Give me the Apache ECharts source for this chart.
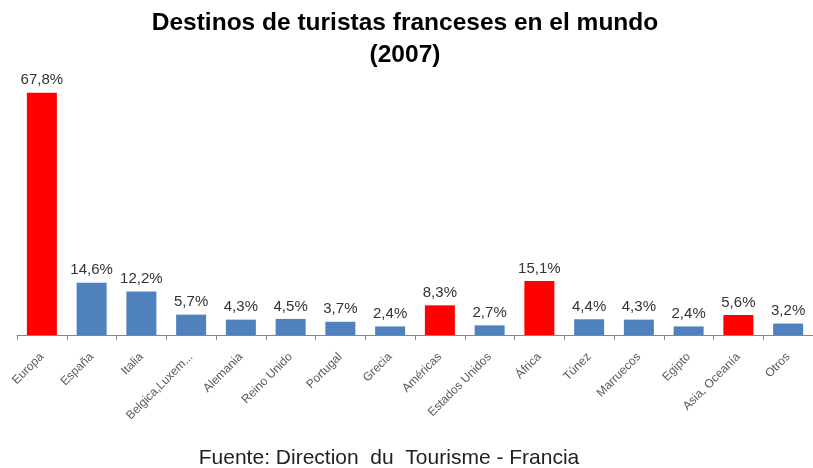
<!DOCTYPE html>
<html><head><meta charset="utf-8">
<script src="https://cdn.jsdelivr.net/npm/echarts@6/dist/echarts.min.js"></script>
<style>html,body{margin:0;padding:0;background:#fff}#c{width:813px;height:468px}</style>
</head><body><div id="c"></div>
<script>
const categories = ["Europa","España","Italia","Belgica,Luxem...","Alemania","Reino Unido","Portugal","Grecia","Américas","Estados Unidos","África","Túnez","Marruecos","Egipto","Asia, Oceanía","Otros"];
const values = [67.8,14.6,12.2,5.7,4.3,4.5,3.7,2.4,8.3,2.7,15.1,4.4,4.3,2.4,5.6,3.2];
const regionFlags = [1,0,0,0,0,0,0,0,1,0,1,0,0,0,1,0];
const titleText = "Destinos de turistas franceses en el mundo\n(2007)";
const sourceText = "Fuente: Direction  du  Tourisme - Francia";

const chart = echarts.init(document.getElementById('c'));
chart.setOption({
  animation: false,
  backgroundColor: '#fff',
  title: [{
    text: titleText, left: 400, top: 2, textAlign: 'center',
    textStyle: {fontFamily: 'Liberation Sans', fontWeight: 'bold', fontSize: 24.5, lineHeight: 32, color: '#000'}
  },{
    text: sourceText, left: 384, top: 443, textAlign: 'center',
    textStyle: {fontFamily: 'Liberation Sans', fontWeight: 'normal', fontSize: 21, color: '#222'}
  }],
  grid: {left: 17, top: 85, width: 801, height: 250, containLabel: false},
  xAxis: {
    type: 'category', data: categories, boundaryGap: true,
    axisLine: {lineStyle: {color: '#868686', width: 1}},
    axisTick: {show: true, alignWithLabel: false, length: 5, lineStyle: {color: '#868686'}},
    axisLabel: {rotate: 45, interval: 0, margin: 20, fontFamily: 'Liberation Sans', fontSize: 12, color: '#595959'}
  },
  yAxis: {type: 'value', min: 0, max: 70, show: false, splitLine: {show: false}},
  series: [{
    type: 'bar', barWidth: 30,
    data: values.map((v, i) => ({value: v, itemStyle: {color: regionFlags[i] ? '#FF0000' : '#4F81BD'}})),
    label: {show: true, position: 'top', distance: 5, formatter: p => p.value.toFixed(1).replace('.', ',') + '%',
      fontFamily: 'Liberation Sans', fontSize: 15, color: '#333'}
  }]
});
</script></body></html>
